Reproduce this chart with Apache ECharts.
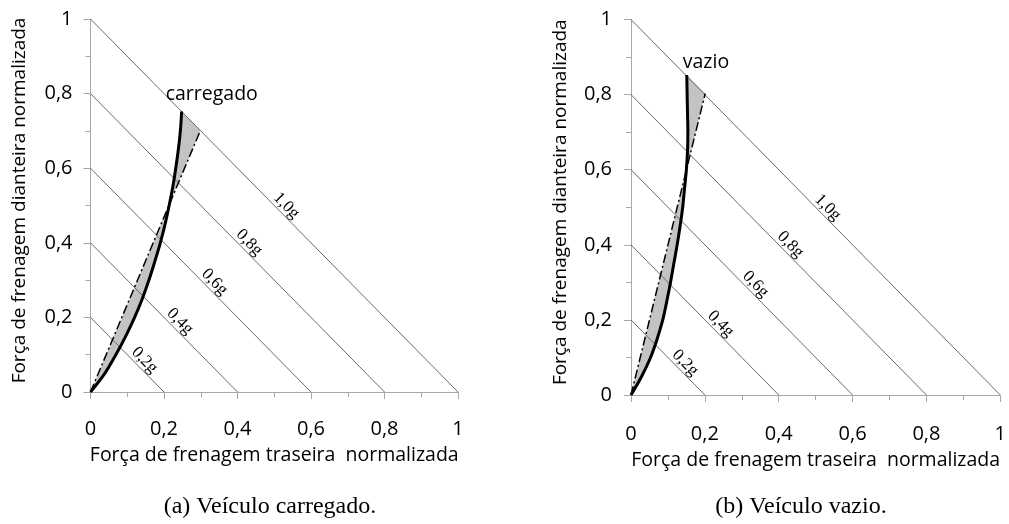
<!DOCTYPE html>
<html>
<head>
<meta charset="utf-8">
<script src="https://cdn.jsdelivr.net/npm/echarts@6/dist/echarts.min.js"></script>
<style>
  html, body { margin: 0; padding: 0; background: #fff; }
  #chart { width: 1009px; height: 524px; }
</style>
</head>
<body>
<div id="chart"></div>
<script>
// Constant-deceleration lines (fraction of g) and their labels
const decelLevels = [0.2, 0.4, 0.6, 0.8, 1.0];
const decelLabels = ['0,2g', '0,4g', '0,6g', '0,8g', '1,0g'];

// Axis ticks (normalized braking force)
const tickValues = [0, 0.2, 0.4, 0.6, 0.8, 1];

// Loaded vehicle: ideal distribution (rear, front)
const loadedIdealRear  = [0, 0.039, 0.069, 0.096, 0.120, 0.141, 0.159, 0.175, 0.190, 0.203, 0.214, 0.224, 0.232, 0.239, 0.2445, 0.248];
const loadedIdealFront = [0, 0.050, 0.100, 0.150, 0.200, 0.250, 0.300, 0.350, 0.400, 0.450, 0.500, 0.550, 0.600, 0.650, 0.700, 0.752];
// Loaded vehicle: installed fixed-ratio distribution
const loadedFixedRear  = [0, 0.299];
const loadedFixedFront = [0, 0.701];

// Empty vehicle: ideal distribution (rear, front)
const emptyIdealRear  = [0, 0.029, 0.053, 0.071, 0.086, 0.097, 0.107, 0.116, 0.125, 0.133, 0.140, 0.145, 0.150, 0.153, 0.154, 0.153, 0.152, 0.151];
const emptyIdealFront = [0, 0.050, 0.100, 0.150, 0.200, 0.250, 0.300, 0.350, 0.400, 0.450, 0.500, 0.550, 0.600, 0.650, 0.700, 0.750, 0.800, 0.852];
// Empty vehicle: installed fixed-ratio distribution
const emptyFixedRear  = [0, 0.201];
const emptyFixedFront = [0, 0.803];

const curveNames = ['carregado', 'vazio'];
const captions = ['(a) Veículo carregado.', '(b) Veículo vazio.'];
const xName = 'Força de frenagem traseira  normalizada';
const yName = 'Força de frenagem dianteira normalizada';

// Pixel shift of each deceleration label along its line, from the midpoint
const labelShift = [16, 14, 11, 8, 8.5];

const zip = (xs, ys) => xs.map((x, i) => [x, ys[i]]);

const sansFont = '"Open Sans", "Noto Sans", sans-serif';

function tickFormatter(v) {
  const r = Math.round(v * 10) / 10;
  return tickValues.some(t => Math.abs(t - r) < 1e-9) ? String(r).replace('.', ',') : '';
}

function axisCommon(gridIndex, labelMargin, nameGap, name, nameSize) {
  return {
    type: 'value', gridIndex, min: 0, max: 1, interval: 0.2,
    axisLine: { show: true, lineStyle: { color: '#a8a8a8', width: 1 } },
    axisTick: { show: true, length: 7, lineStyle: { color: '#a8a8a8' } },
    minorTick: { show: true, splitNumber: 2, length: 5, lineStyle: { color: '#a8a8a8' } },
    splitLine: { show: false },
    axisLabel: { margin: labelMargin, fontSize: 20, color: '#000', fontFamily: sansFont, formatter: tickFormatter },
    name, nameLocation: 'middle', nameGap,
    nameTextStyle: { fontSize: nameSize, color: '#000', fontFamily: sansFont }
  };
}

function makeXAxis(gridIndex, labelMargin, nameGap) {
  return axisCommon(gridIndex, labelMargin, nameGap, xName, 19.5);
}

function makeYAxis(gridIndex, labelMargin, nameGap) {
  const axis = axisCommon(gridIndex, labelMargin, nameGap, yName, 19);
  axis.nameRotate = 90;
  // extra room on the leading side lifts the name a little along the axis
  axis.nameTextStyle.padding = [0, 0, 0, 10];
  return axis;
}

// Gray area between the ideal curve and the fixed-ratio line
function fillSeries(idx, ideal, fixed) {
  return {
    type: 'custom', xAxisIndex: idx, yAxisIndex: idx, silent: true, z: 1,
    data: [[0, 0]],
    renderItem: (params, api) => {
      const pts = ideal.map(p => api.coord(p)).concat(fixed.slice().reverse().map(p => api.coord(p)));
      return { type: 'polygon', shape: { points: pts, smooth: 0 }, style: { fill: '#c3c3c3', stroke: null } };
    }
  };
}

// Diagonal lines of constant deceleration, with rotated labels
function decelSeries(idx) {
  return {
    type: 'custom', xAxisIndex: idx, yAxisIndex: idx, silent: true, z: 2,
    data: decelLevels.map(g => [g, 0]),
    renderItem: (params, api) => {
      const g = api.value(0);
      const k = params.dataIndex;
      const p1 = api.coord([0, g]);
      const p2 = api.coord([g, 0]);
      const dx = p2[0] - p1[0], dy = p2[1] - p1[1];
      const len = Math.hypot(dx, dy);
      const ux = dx / len, uy = dy / len;
      const mx = (p1[0] + p2[0]) / 2 + ux * labelShift[k];
      const my = (p1[1] + p2[1]) / 2 + uy * labelShift[k];
      return {
        type: 'group',
        children: [
          { type: 'line', shape: { x1: p1[0], y1: p1[1], x2: p2[0], y2: p2[1] },
            style: { stroke: '#6a6a6a', lineWidth: 1 } },
          { type: 'text', x: mx, y: my, rotation: -Math.atan2(dy, dx),
            style: { text: decelLabels[k], x: 0, y: 0, align: 'center', verticalAlign: 'bottom',
                     font: '17px "Liberation Serif", serif', fill: '#000' } }
        ]
      };
    }
  };
}

function idealSeries(idx, data, name, labelOffset) {
  return {
    type: 'line', name, xAxisIndex: idx, yAxisIndex: idx, z: 4,
    data, symbol: 'none', smooth: 0.35, silent: true,
    lineStyle: { color: '#000', width: 3 },
    endLabel: { show: true, formatter: name, offset: labelOffset,
                fontSize: 19.5, color: '#000', fontFamily: sansFont },
    animation: false
  };
}

function fixedSeries(idx, data) {
  return {
    type: 'line', xAxisIndex: idx, yAxisIndex: idx, z: 3,
    data, symbol: 'none', silent: true,
    lineStyle: { color: '#000', width: 1.5, type: [9, 3, 2, 3] },
    animation: false
  };
}

const loadedIdeal = zip(loadedIdealRear, loadedIdealFront);
const loadedFixed = zip(loadedFixedRear, loadedFixedFront);
const emptyIdeal = zip(emptyIdealRear, emptyIdealFront);
const emptyFixed = zip(emptyFixedRear, emptyFixedFront);

const captionFont = '24px "Liberation Serif", serif';

const chart = echarts.init(document.getElementById('chart'), null, { renderer: 'canvas' });
chart.setOption({
  animation: false,
  backgroundColor: '#fff',
  grid: [
    { left: 90.5, top: 19, width: 367.5, height: 373 },
    { left: 631, top: 19.5, width: 370, height: 375.5 }
  ],
  xAxis: [makeXAxis(0, 27, 53), makeXAxis(1, 29, 55)],
  yAxis: [makeYAxis(0, 18, 61), makeYAxis(1, 19, 61)],
  graphic: [
    { type: 'text', x: 270, y: 507, style: { text: captions[0], align: 'center', verticalAlign: 'middle',
      font: captionFont, fill: '#000' } },
    { type: 'text', x: 801, y: 507, style: { text: captions[1], align: 'center', verticalAlign: 'middle',
      font: captionFont, fill: '#000' } }
  ],
  series: [
    fillSeries(0, loadedIdeal, loadedFixed),
    decelSeries(0),
    fixedSeries(0, loadedFixed),
    idealSeries(0, loadedIdeal, curveNames[0], [-24, -17]),
    fillSeries(1, emptyIdeal, emptyFixed),
    decelSeries(1),
    fixedSeries(1, emptyFixed),
    idealSeries(1, emptyIdeal, curveNames[1], [-12, -13])
  ]
});
</script>
</body>
</html>
